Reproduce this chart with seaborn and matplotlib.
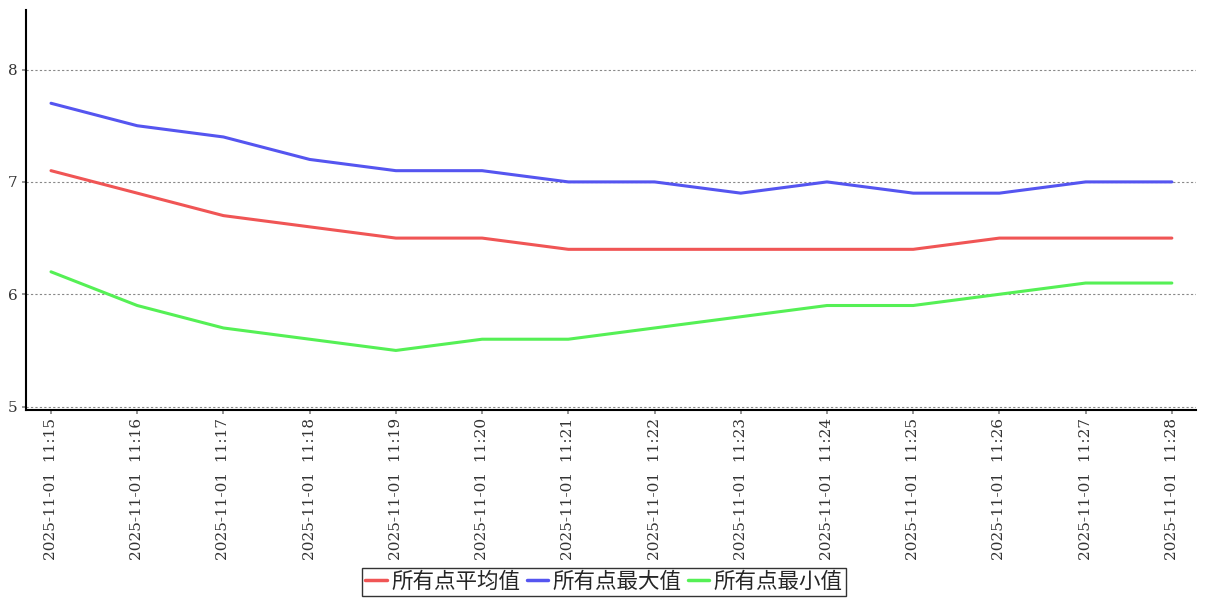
import matplotlib
matplotlib.use("Agg")
import matplotlib.pyplot as plt
import seaborn as sns
import pandas as pd

times = ["2025-11-01  11:15", "2025-11-01  11:16", "2025-11-01  11:17", "2025-11-01  11:18",
         "2025-11-01  11:19", "2025-11-01  11:20", "2025-11-01  11:21", "2025-11-01  11:22",
         "2025-11-01  11:23", "2025-11-01  11:24", "2025-11-01  11:25", "2025-11-01  11:26",
         "2025-11-01  11:27", "2025-11-01  11:28"]
avg_vals = [7.1, 6.9, 6.7, 6.6, 6.5, 6.5, 6.4, 6.4, 6.4, 6.4, 6.4, 6.5, 6.5, 6.5]
max_vals = [7.7, 7.5, 7.4, 7.2, 7.1, 7.1, 7.0, 7.0, 6.9, 7.0, 6.9, 6.9, 7.0, 7.0]
min_vals = [6.2, 5.9, 5.7, 5.6, 5.5, 5.6, 5.6, 5.7, 5.8, 5.9, 5.9, 6.0, 6.1, 6.1]
series_names = ["所有点平均值", "所有点最大值", "所有点最小值"]
colors = ["#f05555", "#5555f0", "#55f055"]
y_ticks = [5, 6, 7, 8]

sns.set_theme(style="white")
plt.rcParams['font.family'] = ['DejaVu Serif', 'Noto Sans CJK SC']

rows = []
for name, vals in zip(series_names, [avg_vals, max_vals, min_vals]):
    for i, v in enumerate(vals):
        rows.append({"idx": i, "value": v, "series": name})
df = pd.DataFrame(rows)

fig = plt.figure(figsize=(12.07, 6.0), dpi=100)
ax = fig.add_axes([26 / 1207, 1 - 410 / 600, (1196 - 26) / 1207, 400 / 600])

for yt in y_ticks:
    ax.axhline(yt, color="#888888", linestyle=(0, (2, 2)), linewidth=0.8, zorder=0)

sns.lineplot(data=df, x="idx", y="value", hue="series", palette=colors,
             hue_order=series_names, linewidth=2.2, ax=ax, legend=False)

ax.set_xlim(-0.29, 13.28)
ax.set_ylim(4.97, 8.53)
ax.set_xticks(range(len(times)))
ax.set_xticklabels(times, rotation=90, fontsize=11, family=['DejaVu Serif'])
ax.set_yticks(y_ticks)
ax.set_yticklabels([str(t) for t in y_ticks], fontsize=11, family=['DejaVu Serif'])
ax.tick_params(axis="both", length=3, color="#888888", colors="#333333", pad=3)
ax.tick_params(axis="x", bottom=True)
ax.tick_params(axis="y", left=True)
ax.set_xlabel("")
ax.set_ylabel("")
for s in ["top", "right"]:
    ax.spines[s].set_visible(False)
for s in ["left", "bottom"]:
    ax.spines[s].set_color("black")
    ax.spines[s].set_linewidth(1.5)

from matplotlib.lines import Line2D
handles = [Line2D([0], [0], color=c, linewidth=2.5) for c in colors]
leg = fig.legend(handles, series_names, loc="center", bbox_to_anchor=(604 / 1207, 1 - 582 / 600),
                 ncol=3, frameon=True, fancybox=False, edgecolor="black",
                 prop={'family': ['Noto Sans CJK SC'], 'size': 15.5},
                 handlelength=1.0, handletextpad=0.2, columnspacing=0.3,
                 borderpad=0.15, borderaxespad=0)
leg.get_frame().set_linewidth(1.0)

fig.savefig("out.png", dpi=100)
